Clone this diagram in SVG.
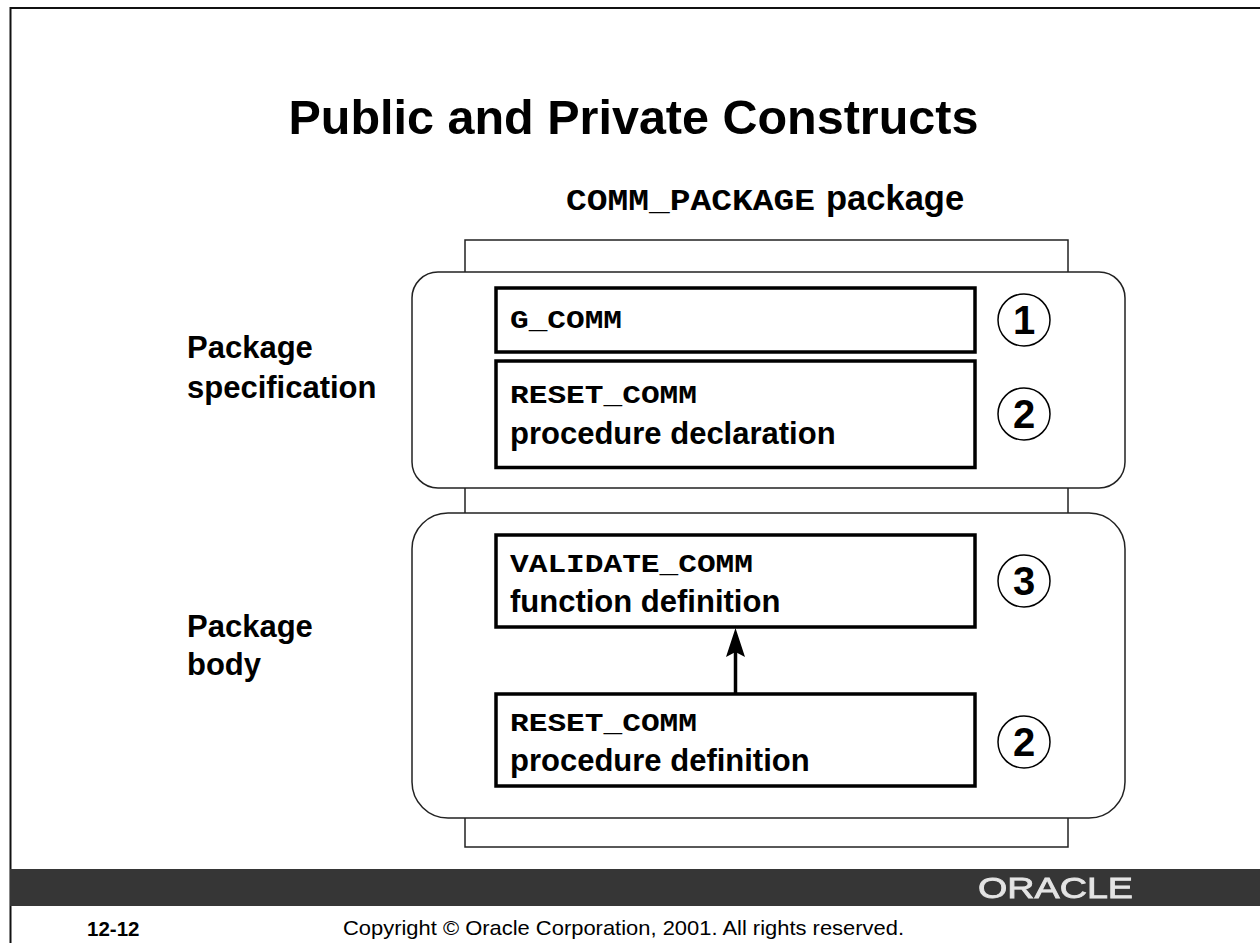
<svg xmlns="http://www.w3.org/2000/svg" width="1260" height="943" viewBox="0 0 1260 943">
<style>
text{font-family:"Liberation Sans",Arial,sans-serif;font-weight:bold;fill:#000}
.m{font-family:"Liberation Mono","Courier New",monospace;font-size:26px}
.l{font-size:31px}
.b{fill:#fff;stroke:#000;stroke-width:3.5}
.r{fill:#fff;stroke:#222;stroke-width:1.5}
.n{fill:#fff;stroke:#000;stroke-width:1.5}
.d{font-size:40px;text-anchor:middle}
</style>
<defs><filter id="soft" x="-5%" y="-20%" width="110%" height="140%"><feGaussianBlur stdDeviation="0.7"/></filter></defs>
<rect width="1260" height="943" fill="#fff"/>
<path d="M10.500 943V8H1260" fill="none" stroke="#111" stroke-width="2"/>
<text x="633.500" y="134" font-size="48.500" text-anchor="middle">Public and Private Constructs</text>
<text class="m" x="566" y="210" style="font-size:30px" textLength="249" lengthAdjust="spacingAndGlyphs">COMM_PACKAGE</text>
<text x="826" y="210" font-size="34.500">package</text>
<g id="package"><rect class="r" x="465" y="240" width="603" height="607"/></g>
<g id="spec"><rect class="r" x="412" y="272" width="713" height="216" rx="26"/>
<text class="l" x="187" y="358">Package</text><text class="l" x="187" y="398">specification</text></g>
<g id="body"><rect class="r" x="412" y="513" width="713" height="305" rx="36"/>
<text class="l" x="187" y="637">Package</text><text class="l" x="187" y="675">body</text></g>
<g id="g-comm"><rect class="b" x="496" y="288" width="479" height="64"/><text class="m" x="510" y="328" textLength="112" lengthAdjust="spacingAndGlyphs">G_COMM</text></g>
<g id="reset-decl"><rect class="b" x="496" y="361" width="479" height="106.500"/><text class="m" x="510" y="403" textLength="187" lengthAdjust="spacingAndGlyphs">RESET_COMM</text><text class="l" x="510" y="444">procedure declaration</text></g>
<g id="validate"><rect class="b" x="496" y="535" width="479" height="92"/><text class="m" x="510" y="572" textLength="243" lengthAdjust="spacingAndGlyphs">VALIDATE_COMM</text><text class="l" x="510" y="611.500">function definition</text></g>
<g id="reset-def"><rect class="b" x="496" y="694" width="479" height="92"/><text class="m" x="510" y="731" textLength="187" lengthAdjust="spacingAndGlyphs">RESET_COMM</text><text class="l" x="510" y="771">procedure definition</text></g>
<g id="connectors"><path d="M735.500 694V650" stroke="#000" stroke-width="3.500" fill="none"/><path d="M735.500 628L726 657L735.500 652L745 657Z" fill="#000"/></g>
<g id="n1"><circle class="n" cx="1024" cy="320" r="26"/><text class="d" x="1024" y="334">1</text></g>
<g id="n2"><circle class="n" cx="1024" cy="414" r="26"/><text class="d" x="1024" y="428">2</text></g>
<g id="n3"><circle class="n" cx="1024" cy="581" r="26"/><text class="d" x="1024" y="595">3</text></g>
<g id="n4"><circle class="n" cx="1024" cy="742" r="26"/><text class="d" x="1024" y="756">2</text></g>
<g id="footer"><rect x="10" y="869" width="1250" height="37" fill="#363636"/>
<text x="978" y="898" font-size="29" textLength="155" lengthAdjust="spacingAndGlyphs" filter="url(#soft)" stroke="#e4e4e4" stroke-width="0.800" style="fill:#e4e4e4;font-weight:normal">ORACLE</text>
<text x="87" y="936" font-size="20.500">12-12</text>
<text x="343" y="935" font-size="21" textLength="561" lengthAdjust="spacingAndGlyphs" style="font-weight:normal">Copyright © Oracle Corporation, 2001. All rights reserved.</text></g>
</svg>
